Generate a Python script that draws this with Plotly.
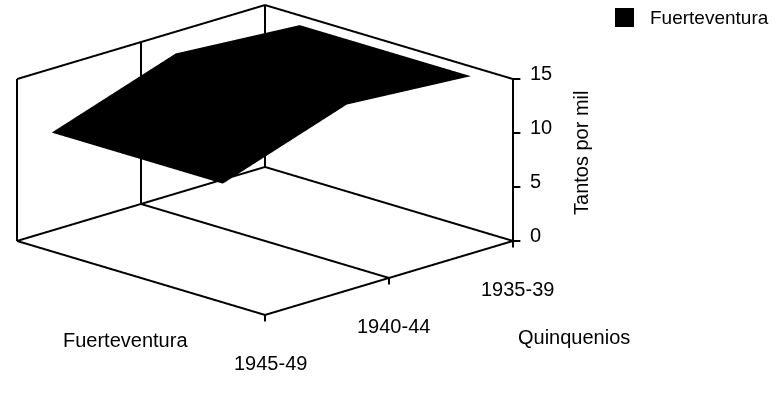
import numpy as np
import plotly.graph_objects as go

# ---- data -------------------------------------------------------------
quinquenios = ["1935-39", "1940-44", "1945-49"]
tasas = [14.1, 14.9, 11.0]          # tantos por mil
serie = "Fuerteventura"
z_ticks = [0, 5, 10, 15]

# ---- geometry of the 3-D box ------------------------------------------
n_cat = len(quinquenios)
cat_pos = list(range(n_cat))        # category index along x
X_MAX = n_cat - 1
Z_MAX = z_ticks[-1]
RIBBON = (0.14, 0.83)               # depth band occupied by the ribbon

# ranges padded a little so the frame lines are not clipped at the box faces
x_range = [-0.05, X_MAX + 0.02]
y_range = [-0.02, 1.03]
z_range = [-0.7, Z_MAX + 0.2]

# length (px) of one data unit on each axis
unit_px = {"x": 175.35, "y": 350.7, "z": 11.31}
WIDTH, HEIGHT = 776, 394
PX_PER_UNIT = HEIGHT / 2            # orthographic view: half the height is one scene unit
aspect = {k: (r[1] - r[0]) * unit_px[k] / PX_PER_UNIT
          for k, r in zip("xyz", (x_range, y_range, z_range))}

# ---- camera (orthographic, looking from the front corner) -------------
elev = np.arcsin(0.2984)
azim = np.pi / 4
d_hat = np.array([np.cos(elev) * np.cos(azim), np.cos(elev) * np.sin(azim), np.sin(elev)])
right = np.array([-1.0, 1.0, 0.0]) / np.sqrt(2)
up_s = np.array([0, 0, 1.0]) - d_hat[2] * d_hat
up_s /= np.linalg.norm(up_s)

DIST = 5.0
BOX_CENTRE = (265, 160)             # where the middle of the box sits on the page (px)
SHIFT_X = BOX_CENTRE[0] - WIDTH / 2
SHIFT_Y = BOX_CENTRE[1] - HEIGHT / 2


def to_norm(x, y, z):
    out = []
    for v, r, k in zip((x, y, z), (x_range, y_range, z_range), "xyz"):
        mid = 0.5 * (r[0] + r[1])
        out.append((v - mid) / (r[1] - r[0]) * aspect[k])
    return np.array(out)


box_mid = to_norm(X_MAX / 2, 0.5, Z_MAX / 2)
look = box_mid - (SHIFT_X / PX_PER_UNIT) * right + (SHIFT_Y / PX_PER_UNIT) * up_s
eye = look + DIST * d_hat

# ---- frame: walls, floor, gridlines and ticks --------------------------
segments = [
    # back wall along the categories (y = 0)
    ((0, 0, 0), (X_MAX, 0, 0)), ((0, 0, Z_MAX), (X_MAX, 0, Z_MAX)),
    ((X_MAX, 0, 0), (X_MAX, 0, Z_MAX)), ((0, 0, 0), (0, 0, Z_MAX)),
    # side wall (x = 0)
    ((0, 0, Z_MAX), (0, 1, Z_MAX)), ((0, 1, 0), (0, 1, Z_MAX)), ((0, 0, 0), (0, 1, 0)),
    # floor
    ((X_MAX, 0, 0), (X_MAX, 1, 0)), ((X_MAX, 1, 0), (0, 1, 0)),
]
for c in cat_pos[1:-1]:
    segments.append(((c, 0, 0), (c, 0, Z_MAX)))
    segments.append(((c, 0, 0), (c, 1, 0)))
for v in z_ticks:
    segments.append(((0, 1, v), (-0.03, 1.015, v)))
for c in cat_pos:
    segments.append(((c, 1, 0), (c, 1, -0.6)))

fx, fy, fz = [], [], []
for a, b in segments:
    fx += [a[0], b[0], None]
    fy += [a[1], b[1], None]
    fz += [a[2], b[2], None]

fig = go.Figure()
fig.add_trace(go.Scatter3d(
    x=fx, y=fy, z=fz, mode="lines",
    line=dict(color="black", width=4),
    hoverinfo="skip", showlegend=False,
))

# ---- the series ribbon -------------------------------------------------
fig.add_trace(go.Surface(
    x=cat_pos, y=list(RIBBON), z=[tasas, tasas],
    colorscale=[[0, "black"], [1, "black"]], showscale=False,
    lighting=dict(ambient=1, diffuse=0, specular=0, fresnel=0, roughness=1),
    contours=dict(x=dict(highlight=False), y=dict(highlight=False), z=dict(highlight=False)),
    hoverinfo="skip", name=serie,
))

FONT = dict(family="Liberation Sans, Arial, sans-serif", size=20, color="black")

ann = []
for v in z_ticks:
    ann.append(dict(x=0, y=1, z=v, text=str(v), showarrow=False,
                    xanchor="left", yanchor="middle", xshift=15, yshift=6, font=FONT))
for c, lab in zip(cat_pos, quinquenios):
    ann.append(dict(x=c, y=1, z=0, text=lab, showarrow=False,
                    xanchor="center", yanchor="middle", xshift=5, yshift=-48, font=FONT))
ann.append(dict(x=X_MAX, y=0.5, z=0, text=serie, showarrow=False,
                xanchor="center", yanchor="middle", xshift=-16, yshift=-62, font=FONT))
ann.append(dict(x=0, y=1, z=0, text="Quinquenios", showarrow=False,
                xanchor="center", yanchor="middle", xshift=61, yshift=-96, font=FONT))
ann.append(dict(x=0, y=1, z=Z_MAX / 2, text="Tantos por mil", showarrow=False,
                textangle=-90, xanchor="center", yanchor="middle", xshift=68, yshift=8, font=FONT))

hidden = dict(showgrid=False, showline=False, zeroline=False, showticklabels=False,
              showbackground=False, showspikes=False, ticks="", title=dict(text=""))

fig.update_layout(
    width=WIDTH, height=HEIGHT,
    margin=dict(l=0, r=0, t=0, b=0),
    paper_bgcolor="white",
    showlegend=False,
    scene=dict(
        domain=dict(x=[0, 1], y=[0, 1]),
        xaxis=dict(range=x_range, **hidden),
        yaxis=dict(range=y_range, **hidden),
        zaxis=dict(range=z_range, **hidden),
        aspectmode="manual",
        aspectratio=aspect,
        camera=dict(
            projection=dict(type="orthographic"),
            eye=dict(x=eye[0], y=eye[1], z=eye[2]),
            center=dict(x=look[0], y=look[1], z=look[2]),
            up=dict(x=0, y=0, z=1),
        ),
        annotations=ann,
        dragmode=False,
    ),
    shapes=[dict(type="rect", xref="paper", yref="paper",
                 x0=615 / WIDTH, x1=634 / WIDTH, y0=1 - 27 / HEIGHT, y1=1 - 8 / HEIGHT,
                 fillcolor="black", line=dict(width=0))],
    annotations=[dict(xref="paper", yref="paper", x=648 / WIDTH, y=1 - 17.5 / HEIGHT,
                      text=serie, showarrow=False, xanchor="left", yanchor="middle",
                      font=dict(FONT, size=19))],
)

fig.write_html("out.html")
